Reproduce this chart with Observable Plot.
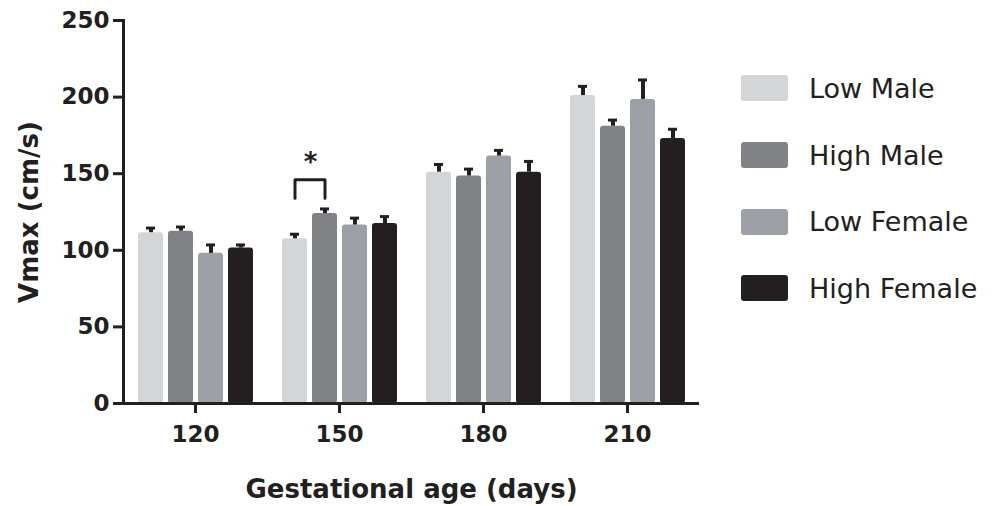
<!DOCTYPE html>
<html>
<head>
<meta charset="utf-8">
<script src="https://cdn.jsdelivr.net/npm/d3@7"></script>
<script src="https://cdn.jsdelivr.net/npm/@observablehq/plot@0.6"></script>
<style>
  html, body { margin: 0; padding: 0; background: #fff; }
  #wrap { position: relative; width: 998px; height: 506px; }
  #wrap svg { display: block; }
  g[aria-label="y-axis label"] text, g[aria-label="fx-axis label"] text { font-size: 26px; }
  #legend { position: absolute; left: 741px; top: 55px; font-family: "DejaVu Sans", sans-serif; font-size: 27px; color: #231f20; }
  #legend .row { display: flex; align-items: center; height: 66.7px; }
  #legend .sw { width: 47px; height: 26px; border-radius: 3px; margin-right: 21px; }
  #legend .lb { line-height: 1; }
</style>
</head>
<body>
<div id="wrap"></div>
<script>
// ---- data ----
const ages = ["120", "150", "180", "210"];
const series = ["Low Male", "High Male", "Low Female", "High Female"];
const colors = ["#d4d5d7", "#818285", "#9d9fa6", "#231f20"];
const yTicks = [0, 50, 100, 150, 200, 250];

const lowMale    = [111.5, 107.5, 151,   201];
const highMale   = [112.5, 124,   148.5, 181];
const lowFemale  = [98,    116.5, 161.5, 198.5];
const highFemale = [101.5, 117.5, 151,   173];

const lowMaleErr    = [3,   3,   5,   6];
const highMaleErr   = [2.7, 3,   4.5, 4];
const lowFemaleErr  = [5.5, 4.5, 3.7, 12.7];
const highFemaleErr = [2,   4.5, 7,   6];

// significance bracket (150 days, Low Male vs High Male)
const bracketAge = "150";
const bracketFrom = "Low Male";
const bracketTo = "High Male";
const bracketLow = 134;
const bracketHigh = 146;
const starValue = 157;
const starLabel = "*";

const ink = "#231f20";

// ---- build tables ----
const means = [lowMale, highMale, lowFemale, highFemale];
const errs = [lowMaleErr, highMaleErr, lowFemaleErr, highFemaleErr];
const data = ages.flatMap((a, i) => series.map((s, j) => ({age: a, series: s, mean: means[j][i], err: errs[j][i]})));
const bracket = [
  {age: bracketAge, series: bracketFrom, y: bracketLow},
  {age: bracketAge, series: bracketFrom, y: bracketHigh},
  {age: bracketAge, series: bracketTo, y: bracketHigh},
  {age: bracketAge, series: bracketTo, y: bracketLow}
];
const star = [{age: bracketAge, series: bracketFrom, y: starValue, label: starLabel}];

const chart = Plot.plot({
  width: 998,
  height: 506,
  marginLeft: 121,
  marginRight: 298,
  marginTop: 20,
  marginBottom: 103,
  style: {fontFamily: "DejaVu Sans", fontWeight: "bold", color: ink, background: "#fff"},
  fx: {domain: ages, padding: 0, label: null},
  x: {domain: series, paddingInner: 0.17, paddingOuter: 0.42, axis: null},
  y: {domain: [0, 250], label: "Vmax (cm/s)"},
  color: {domain: series, range: colors},
  marks: [
    Plot.barY(data, {fx: "age", x: "series", y: "mean", fill: "series", rx: 3}),
    Plot.ruleX(data, {fx: "age", x: "series", y1: "mean", y2: d => d.mean + d.err, stroke: ink, strokeWidth: 4}),
    Plot.tickY(data, {fx: "age", x: "series", y: d => d.mean + d.err, stroke: ink, strokeWidth: 3, insetLeft: 8, insetRight: 8}),
    Plot.line(bracket, {fx: "age", x: "series", y: "y", stroke: ink, strokeWidth: 3}),
    Plot.text(star, {fx: "age", x: "series", y: "y", text: "label", dx: 15.5, fontSize: 26, fill: ink}),
    Plot.ruleY([0], {stroke: ink, strokeWidth: 3}),
    Plot.frame({anchor: "left", facetAnchor: "left", stroke: ink, strokeWidth: 3}),
    Plot.axisY({ticks: yTicks, tickSize: 10, tickPadding: 4, strokeWidth: 3, fontSize: 23, fill: ink, stroke: ink,
      label: "Vmax (cm/s)", labelArrow: "none", labelAnchor: "center", labelOffset: 104}),
    Plot.axisFx({anchor: "bottom", tickSize: 10, tickPadding: 12, strokeWidth: 3, fontSize: 23, fill: ink, stroke: ink,
      label: "Gestational age (days)", labelArrow: "none", labelAnchor: "center", labelOffset: 94})
  ]
});

const wrap = document.getElementById("wrap");
wrap.appendChild(chart);

// legend (HTML, right side)
const legend = d3.select(wrap).append("div").attr("id", "legend");
const rows = legend.selectAll("div.row").data(series).join("div").attr("class", "row");
rows.append("div").attr("class", "sw").style("background", (d, i) => colors[i]);
rows.append("div").attr("class", "lb").text(d => d);
</script>
</body>
</html>
